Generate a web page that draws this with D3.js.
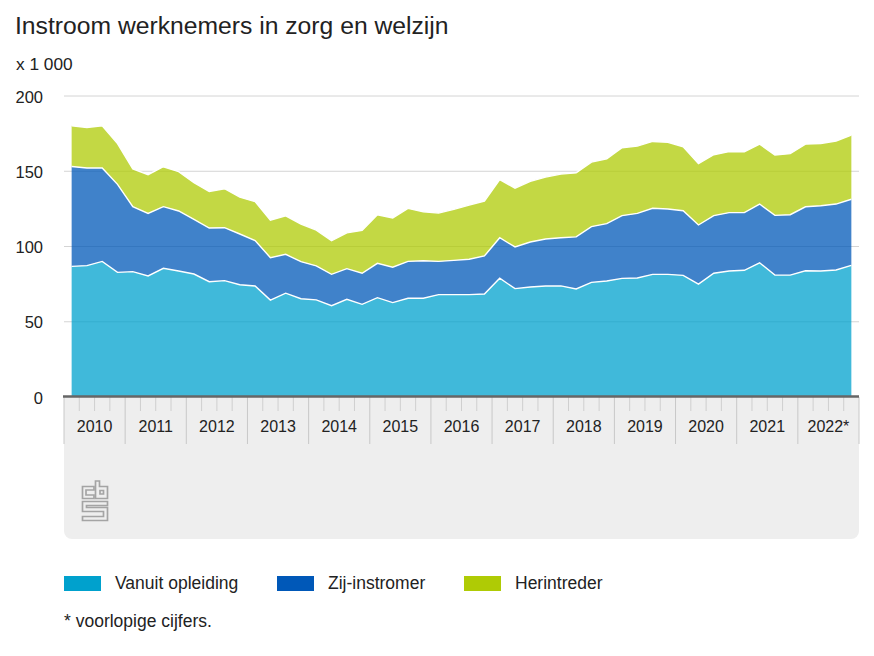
<!doctype html>
<html>
<head>
<meta charset="utf-8"/>
<title>Instroom werknemers in zorg en welzijn</title>
<script src="https://d3js.org/d3.v7.min.js"></script>
<style>
html,body{margin:0;padding:0;background:#fff;}
svg{display:block;}
text{font-family:"Liberation Sans",Arial,sans-serif;fill:#222;}
</style>
</head>
<body>
<script>
var jaren = ["2010","2011","2012","2013","2014","2015","2016","2017","2018","2019","2020","2021","2022*"];
var kwartalen = ["Q1","Q2","Q3","Q4"];
var reeksen = ["Vanuit opleiding","Zij-instromer","Herintreder"];
var yTicks = [0,50,100,150,200];

var opleiding = [86.8,87.3,90.1,82.8,83.3,80.4,85.5,83.7,81.7,76.6,77.3,74.6,73.8,64.4,69,65.3,64.5,60.7,64.9,61.6,66,62.7,65.6,65.6,68,68,68,68.4,78.9,72,73.1,73.8,73.8,71.8,76.2,77.1,78.8,79.1,81.5,81.5,80.8,75,82.2,83.7,84.2,89.2,81,81,83.9,83.7,84.4,87.5];
var zijinstromer = [66.4,64.9,62.1,58.5,43.2,41.6,41,39.9,36.3,35.7,35.2,33.7,30.1,28.2,25.8,24.6,22.6,20.8,20.4,20.6,22.8,23.5,24.5,24.9,22.1,22.8,23.5,25.3,26.9,27.7,29.9,31.2,32,34.6,37,38.1,41.7,42.9,43.9,43.4,43,39.3,38.3,38.8,38.3,39,39.7,40.1,42.5,43.4,43.8,43.9];
var herintreder = [27,26.9,28,27.1,25.1,25.7,26.5,26.1,24.4,24.3,25.9,24.5,25.9,24.9,25.6,25,23.8,22.3,23.8,28.5,32.3,32.7,35.2,32.6,32.1,33.9,36,36.5,38.6,39.1,40.3,41.1,42.3,42.5,42.9,43.1,45.1,44.7,44.4,44.3,42.5,40.7,40.5,40.5,40.5,39.8,40.1,40.6,41.6,41.3,41.9,42.6];

var kleuren = ["#00a1cd","#0058b8","#afcb05"];

var svg = d3.select("body").append("svg").attr("width",874).attr("height",656);

var x0 = 64, x1 = 859, y0 = 397, yTop = 96;

// grijs paneel onder de as
svg.append("path")
  .attr("d","M"+x0+","+y0+"H"+x1+"V531a8,8 0 0 1 -8,8H"+(x0+8)+"a8,8 0 0 1 -8,-8Z")
  .attr("fill","#eeeeee");

var perioden = [];
jaren.forEach(function(j){ kwartalen.forEach(function(k){ perioden.push(j+k); }); });

var x = d3.scaleBand().domain(perioden).range([x0,x1]);
var xJaar = d3.scaleBand().domain(jaren).range([x0,x1]);
var y = d3.scaleLinear().domain([0,200]).range([y0,yTop]);

// rasterlijnen
svg.selectAll(".grid").data(yTicks.slice(1)).enter().append("line")
  .attr("x1",x0).attr("x2",x1)
  .attr("y1",function(d){return y(d);}).attr("y2",function(d){return y(d);})
  .attr("stroke","#d4d4d4").attr("stroke-width",1);

svg.selectAll(".ylab").data(yTicks).enter().append("text")
  .attr("x",43).attr("text-anchor","end")
  .attr("y",function(d){return y(d)+6.5;})
  .attr("font-size",16.5).text(function(d){return d;});

// gestapelde vlakken
var tabel = perioden.map(function(p,i){
  return {periode:p, "Vanuit opleiding":opleiding[i], "Zij-instromer":zijinstromer[i], "Herintreder":herintreder[i]};
});
var lagen = d3.stack().keys(reeksen)(tabel);

var cx = function(d){ return x(d.data.periode)+x.bandwidth()/2; };
var area = d3.area().x(cx).y0(function(d){return y(d[0]);}).y1(function(d){return y(d[1]);});
var lijn = d3.line().x(cx).y(function(d){return y(d[1]);});

svg.selectAll(".laag").data(lagen).enter().append("path")
  .attr("d",area)
  .attr("fill",function(d,i){return kleuren[i];})
  .attr("fill-opacity",0.75);

svg.selectAll(".lijn").data(lagen).enter().append("path")
  .attr("d",lijn)
  .attr("fill","none")
  .attr("stroke","#fff")
  .attr("stroke-width",1.4);

// x-as: jaarstreepjes en kwartaalstreepjes
jaren.forEach(function(j){
  kwartalen.slice(1).forEach(function(k){
    svg.append("line")
      .attr("x1",x(j+k)).attr("x2",x(j+k))
      .attr("y1",y0).attr("y2",411)
      .attr("stroke","#cfcfcf").attr("stroke-width",1);
  });
});
jaren.concat([null]).forEach(function(j){
  var px = j === null ? x1 : xJaar(j);
  svg.append("line")
    .attr("x1",px).attr("x2",px)
    .attr("y1",y0).attr("y2",444)
    .attr("stroke","#c8c8c8").attr("stroke-width",1);
});
svg.selectAll(".jaar").data(jaren).enter().append("text")
  .attr("x",function(d){return xJaar(d)+xJaar.bandwidth()/2;})
  .attr("y",432)
  .attr("text-anchor","middle")
  .attr("font-size",16)
  .text(function(d){return d;});

svg.append("line")
  .attr("x1",x0-1).attr("x2",x1)
  .attr("y1",y0-0.5).attr("y2",y0-0.5)
  .attr("stroke","#666").attr("stroke-width",2.4);

// titel
svg.append("text").attr("x",15).attr("y",34).attr("font-size",24.7).text("Instroom werknemers in zorg en welzijn");
svg.append("text").attr("x",16).attr("y",70).attr("font-size",17.3).text("x 1 000");

// CBS logo
var logo = svg.append("g").attr("fill","none").attr("stroke","#a4a4a4").attr("stroke-width",1.7);
logo.append("path").attr("d","M94,486.5H82.5V498.5H94V495H86V490H94Z");
logo.append("path").attr("d","M95.5,481H99.5V486.5H107.5V498.5H95.5ZM100,490.5H103.5V494H100Z");
logo.append("path").attr("d","M107.5,501.5H82.5V511.5H103.5V516.5H82.5V520.5H107.5V507.5H86.5V505.5H107.5Z");

// legenda
var legendaX = [64,277,464];
var legendaTekstX = [115,328,515];
reeksen.forEach(function(r,i){
  svg.append("rect").attr("x",legendaX[i]).attr("y",576).attr("width",37).attr("height",15).attr("fill",kleuren[i]);
  svg.append("text").attr("x",legendaTekstX[i]).attr("y",589).attr("font-size",17.5).text(r);
});
svg.append("text").attr("x",64).attr("y",627).attr("font-size",17.5).text("* voorlopige cijfers.");
</script>
</body>
</html>
